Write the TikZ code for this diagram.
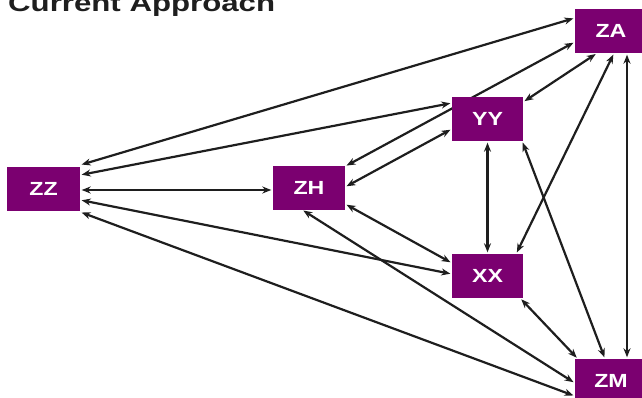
\documentclass[tikz,border=0pt]{standalone}
\usepackage{fontspec}
\setmainfont{Liberation Sans}
\usetikzlibrary{calc,arrows.meta}
\definecolor{boxpurple}{RGB}{123,0,112}
\definecolor{linegray}{RGB}{30,30,30}
\pgfdeclarelayer{background}
\pgfsetlayers{background,main}
\tikzset{
  unit/.style={draw=none,fill=boxpurple,minimum width=72pt,minimum height=44pt,
    inner sep=0pt,text=white,font=\fontsize{19}{21}\selectfont\bfseries},
  link/.style={draw=linegray,line width=2.2pt,
    {Stealth[length=9pt,width=7pt]}-{Stealth[length=9pt,width=7pt]},shorten <=1.5pt,shorten >=1.5pt},
}
\newcommand{\wide}[1]{\scalebox{1.22}[1]{#1}}
\newcommand{\widetitle}[1]{\scalebox{1.3}[1]{#1}}
\begin{document}
\begin{tikzpicture}[x=1pt,y=-1pt]
\useasboundingbox (0,0) rectangle (642,398);
% title, running off the top edge
\node[anchor=base west,inner sep=0pt,text=linegray,font=\fontsize{24}{28}\selectfont\bfseries] (title) at (8,12) {\widetitle{Current Approach}};
% boxes
\node[unit,minimum width=73pt] (ZZ) at (43.5,189) {\wide{ZZ}};
\node[unit,minimum height=43pt] (ZH) at (309,188) {\wide{ZH}};
\node[unit,minimum width=71pt] (YY) at (487.5,119) {\wide{YY}};
\node[unit,minimum width=71pt] (XX) at (487.5,276) {\wide{XX}};
\node[unit] (ZA) at (611,31) {\wide{ZA}};
\node[unit] (ZM) at (611,381) {\wide{ZM}};
% connectors, kept behind the boxes
\begin{pgfonlayer}{background}
\draw[link] ($(ZZ.east)+(0,-24)$) -- ($(ZA.west)+(0,-13)$);
\draw[link] ($(ZZ.east)+(0,-14)$) -- ($(YY.west)+(0,-16)$);
\draw[link] ($(ZZ.east)+(0,1)$) -- ($(ZH.west)+(0,2)$);
\draw[link] ($(ZZ.east)+(0,11)$) -- ($(XX.west)+(0,-2)$);
\draw[link] ($(ZZ.east)+(0,23)$) -- ($(ZM.west)+(0,15)$);
\draw[link] (ZH.north east) -- ($(ZA.west)+(0,11)$);
\draw[link] ($(ZH.east)+(0,-1)$) -- ($(YY.west)+(0,10)$);
\draw[link] ($(ZH.east)+(0,16)$) -- ($(XX.west)+(0,-13)$);
\draw[link] ($(ZH.south)+(-7,0)$) -- ($(ZM.west)+(0,2)$);
\draw[link] (YY.south) -- (XX.north);
\draw[link] ($(YY.east)+(0,-17)$) -- ($(ZA.south)+(-14,0)$);
\draw[link] ($(YY.south east)+(-1,0)$) -- ($(ZM.north)+(-6,0)$);
\draw[link] ($(XX.north east)+(-7,0)$) -- ($(ZA.south)+(3,0)$);
\draw[link] ($(XX.south east)+(-3,0)$) -- ($(ZM.north west)+(3,0)$);
\draw[link] ($(ZA.south)+(16,0)$) -- ($(ZM.north)+(16,0)$);
\end{pgfonlayer}
\end{tikzpicture}
\end{document}
